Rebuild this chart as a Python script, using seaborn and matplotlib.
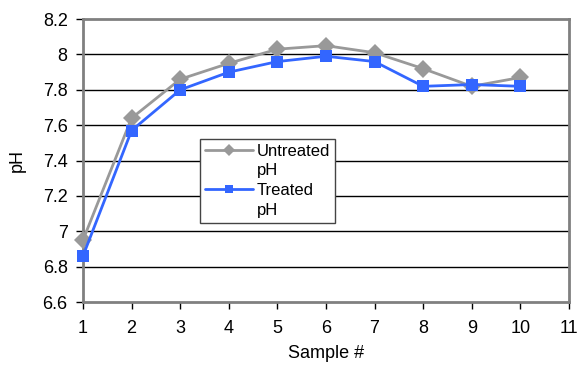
import matplotlib
matplotlib.use("Agg")
import matplotlib.pyplot as plt
from matplotlib.lines import Line2D
import seaborn as sns
import pandas as pd

samples = [1, 2, 3, 4, 5, 6, 7, 8, 9, 10]
untreated_ph = [6.95, 7.64, 7.86, 7.95, 8.03, 8.05, 8.01, 7.92, 7.82, 7.87]
treated_ph = [6.86, 7.57, 7.80, 7.90, 7.96, 7.99, 7.96, 7.82, 7.83, 7.82]
series_names = ["Untreated", "Treated"]
x_ticks = list(range(1, 12))
y_ticks = [6.6, 6.8, 7.0, 7.2, 7.4, 7.6, 7.8, 8.0, 8.2]
y_tick_labels = ["6.6", "6.8", "7", "7.2", "7.4", "7.6", "7.8", "8", "8.2"]

sns.set_theme(style="white")
plt.rcParams["font.family"] = ["Liberation Sans", "DejaVu Sans"]
plt.rcParams["text.color"] = "black"
plt.rcParams["axes.labelcolor"] = "black"

colors = {"Untreated": "#999999", "Treated": "#3366ff"}
markers = {"Untreated": "D", "Treated": "s"}

df = pd.DataFrame({
    "Sample #": samples * 2,
    "pH": untreated_ph + treated_ph,
    "series": [series_names[0]] * len(samples) + [series_names[1]] * len(samples),
})

fig = plt.figure(figsize=(5.77, 3.68), dpi=100)
ax = fig.add_axes([0.1438, 0.1793, 0.8422, 0.7687])

for ypos in y_ticks[1:-1]:
    ax.axhline(ypos, color="black", lw=1.0, zorder=0)

sns.lineplot(
    data=df, x="Sample #", y="pH", hue="series", style="series",
    palette=colors, markers=markers,
    dashes=False, markersize=9, linewidth=2, markeredgewidth=0,
    ax=ax, zorder=3, legend=False,
)
for ln in ax.lines:
    ln.set_clip_on(False)

ax.set_xlim(1, 11)
ax.set_ylim(6.6, 8.2)
ax.set_xticks(x_ticks)
ax.set_yticks(y_ticks)
ax.set_yticklabels(y_tick_labels)
ax.tick_params(axis="both", labelsize=13, colors="black", length=5, width=1,
               direction="out", bottom=True, left=True)
ax.tick_params(axis="y", pad=6)
ax.tick_params(axis="x", pad=8)
for t in ax.get_xticklines() + ax.get_yticklines():
    t.set_color("#333333")
ax.set_xlabel("Sample #", fontsize=13, labelpad=6)
ax.set_ylabel("pH", fontsize=13, labelpad=12)

for side, sp in ax.spines.items():
    sp.set_color("#808080")
    sp.set_linewidth(2)

# Legend: handle sits beside the first line of each two-line label
blank = Line2D([], [], linestyle="none", marker=None)
handles = [
    Line2D([], [], color=colors["Untreated"], marker="D", markersize=6, lw=2, markeredgewidth=0),
    blank,
    Line2D([], [], color=colors["Treated"], marker="s", markersize=6, lw=2, markeredgewidth=0),
    blank,
]
labels = ["Untreated", "pH", "Treated", "pH"]
leg = ax.legend(
    handles, labels,
    loc="upper left", bbox_to_anchor=(0.241, 0.578), fontsize=12,
    frameon=True, fancybox=False, framealpha=1, edgecolor="#444444",
    handlelength=2.9, handletextpad=0.2, labelspacing=0.28, borderpad=0.3,
    borderaxespad=0,
)
leg.get_frame().set_linewidth(1)

fig.savefig("out.png", dpi=100)
